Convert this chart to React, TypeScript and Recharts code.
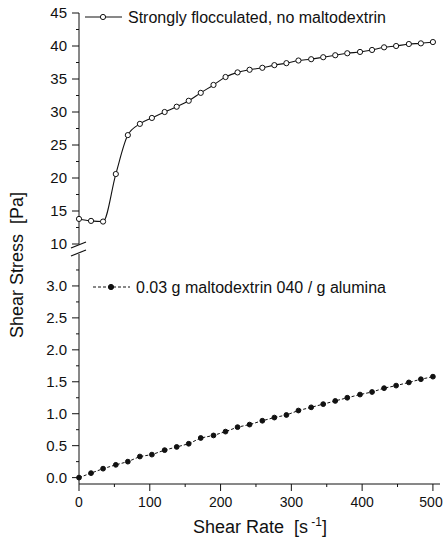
import React from "react";
import { LineChart, Line, XAxis, YAxis, Legend } from "recharts";

// shear rate [1/s]
const shearRate = [
  0, 17, 34, 52, 69, 86, 103, 121, 138, 155, 172, 190, 207, 224, 241,
  259, 276, 293, 310, 328, 345, 362, 379, 397, 414, 431, 448, 466, 483, 500,
];
// strongly flocculated, no maltodextrin [Pa]
const flocculated = [
  13.8, 13.5, 13.4, 20.6, 26.5, 28.2, 29.1, 30.0, 30.8, 31.7, 32.9, 34.1, 35.3, 36.0, 36.4,
  36.7, 37.1, 37.4, 37.8, 38.0, 38.3, 38.6, 38.9, 39.1, 39.4, 39.8, 40.0, 40.3, 40.4, 40.6,
];
// 0.03 g maltodextrin 040 / g alumina [Pa]
const maltodextrin = [
  0.0, 0.07, 0.14, 0.2, 0.25, 0.33, 0.36, 0.43, 0.48, 0.53, 0.62, 0.66, 0.72, 0.79, 0.83,
  0.89, 0.94, 0.98, 1.05, 1.1, 1.15, 1.2, 1.25, 1.3, 1.34, 1.4, 1.44, 1.49, 1.54, 1.58,
];

const xTicks = [0, 50, 100, 150, 200, 250, 300, 350, 400, 450, 500];
const topTicks = [10, 12.5, 15, 17.5, 20, 22.5, 25, 27.5, 30, 32.5, 35, 37.5, 40, 42.5, 45];
const bottomTicks = [0, 0.25, 0.5, 0.75, 1, 1.25, 1.5, 1.75, 2, 2.25, 2.5, 2.75, 3, 3.25];

const INK = "#111";
const FONT = "'Liberation Sans', Arial, Helvetica, sans-serif";
const TICK_SIZE = 7;
const TICK_MARGIN = 5;

const data = shearRate.map((x, i) => ({
  x,
  floc: flocculated[i],
  malto: maltodextrin[i],
}));

const isMult = (v: number, step: number) => Math.abs(v / step - Math.round(v / step)) < 1e-6;

function yTick(props: any, step: number, digits: number) {
  const { x, y, payload } = props;
  const major = isMult(payload.value, step);
  const axisX = x + TICK_SIZE + TICK_MARGIN;
  return (
    <g>
      <line x1={axisX - (major ? TICK_SIZE : 3)} x2={axisX} y1={y} y2={y} stroke={INK} />
      {major && (
        <text x={x} y={y} dy="0.36em" textAnchor="end" fontSize={15} fontFamily={FONT} fill={INK}>
          {payload.value.toFixed(digits)}
        </text>
      )}
    </g>
  );
}

function xTick(props: any) {
  const { x, y, payload } = props;
  const major = isMult(payload.value, 100);
  const axisY = y - TICK_SIZE - TICK_MARGIN;
  // keep the last label inside the page
  const tx = Math.min(x, 443 - 12);
  return (
    <g>
      <line x1={x} x2={x} y1={axisY} y2={axisY + (major ? TICK_SIZE : 3)} stroke={INK} />
      {major && (
        <text x={tx} y={y} dy="0.8em" textAnchor="middle" fontSize={14} fontFamily={FONT} fill={INK}>
          {payload.value}
        </text>
      )}
    </g>
  );
}

function legendBox(label: string, filled: boolean) {
  return () => (
    <svg width={350} height={20} style={{ display: "block" }}>
      <line x1={0} x2={37} y1={10} y2={10} stroke={INK} strokeDasharray={filled ? "3 2" : undefined} />
      <circle cx={18} cy={10} r={2.6} fill={filled ? INK : "#fff"} stroke={INK} />
      <text x={43} y={10} dy="0.36em" fontSize={16} fontFamily={FONT} fill={INK}>
        {label}
      </text>
    </svg>
  );
}

export default function App() {
  return (
    <div style={{ position: "absolute", left: 0, top: 0, width: 443, height: 549, background: "#fff" }}>
      <div style={{ position: "absolute", left: 0, top: 0 }}>
        <LineChart width={443} height={549} data={data} margin={{ top: 254, right: 3, left: 0, bottom: 35 }}>
          <XAxis
            dataKey="x"
            type="number"
            domain={[0, 510]}
            ticks={xTicks}
            interval={0}
            tickLine={false}
            tickSize={TICK_SIZE}
            tickMargin={TICK_MARGIN}
            tick={xTick}
            axisLine={{ stroke: INK }}
            height={30}
          />
          <YAxis
            type="number"
            domain={[-0.1, 3.5]}
            ticks={bottomTicks}
            interval={0}
            tickLine={false}
            tickSize={TICK_SIZE}
            tickMargin={TICK_MARGIN}
            tick={(p: any) => yTick(p, 0.5, 1)}
            axisLine={{ stroke: INK }}
            width={79}
          />
          <Legend
            layout="vertical"
            align="center"
            verticalAlign="middle"
            wrapperStyle={{ left: 93, top: 277, width: 350, height: 20 }}
            content={legendBox("0.03 g maltodextrin 040 / g alumina", true)}
          />
          <Line
            dataKey="malto"
            type="linear"
            stroke={INK}
            strokeWidth={1}
            strokeDasharray="3 2"
            dot={{ r: 2.4, fill: INK, stroke: INK, strokeWidth: 1, strokeDasharray: "" }}
            isAnimationActive={false}
          />
        </LineChart>
      </div>
      <div style={{ position: "absolute", left: 0, top: 0 }}>
        <LineChart width={443} height={260} data={data} margin={{ top: 13, right: 3, left: 0, bottom: 16 }}>
          <XAxis dataKey="x" type="number" domain={[0, 510]} hide />
          <YAxis
            type="number"
            domain={[10, 45]}
            ticks={topTicks}
            interval={0}
            tickLine={false}
            tickSize={TICK_SIZE}
            tickMargin={TICK_MARGIN}
            tick={(p: any) => yTick(p, 5, 0)}
            axisLine={{ stroke: INK }}
            width={79}
          />
          <Legend
            layout="vertical"
            align="center"
            verticalAlign="middle"
            wrapperStyle={{ left: 85, top: 7, width: 350, height: 20 }}
            content={legendBox("Strongly flocculated, no maltodextrin", false)}
          />
          <Line
            dataKey="floc"
            type="monotone"
            stroke={INK}
            strokeWidth={1.1}
            dot={{ r: 2.6, fill: "#fff", stroke: INK, strokeWidth: 1 }}
            isAnimationActive={false}
          />
        </LineChart>
      </div>
      <svg
        width={443}
        height={549}
        style={{ position: "absolute", left: 0, top: 0, pointerEvents: "none" }}
      >
        <rect x={76} y={245} width={6} height={8} fill="#fff" />
        <line x1={71} y1={248} x2={86} y2={242} stroke={INK} strokeWidth={1.2} />
        <line x1={71} y1={256} x2={86} y2={250} stroke={INK} strokeWidth={1.2} />
        <text
          transform="translate(23,265) rotate(-90)"
          textAnchor="middle"
          fontSize={18}
          fontFamily={FONT}
          fill={INK}
          style={{ whiteSpace: "pre" }}
        >
          {"Shear Stress  [Pa]"}
        </text>
        <text x={260} y={533} textAnchor="middle" fontSize={18} fontFamily={FONT} fill={INK} style={{ whiteSpace: "pre" }}>
          {"Shear Rate  [s"}
          <tspan fontSize={12} dy={-7}>{" -1"}</tspan>
          <tspan dy={7}>{"]"}</tspan>
        </text>
      </svg>
    </div>
  );
}
